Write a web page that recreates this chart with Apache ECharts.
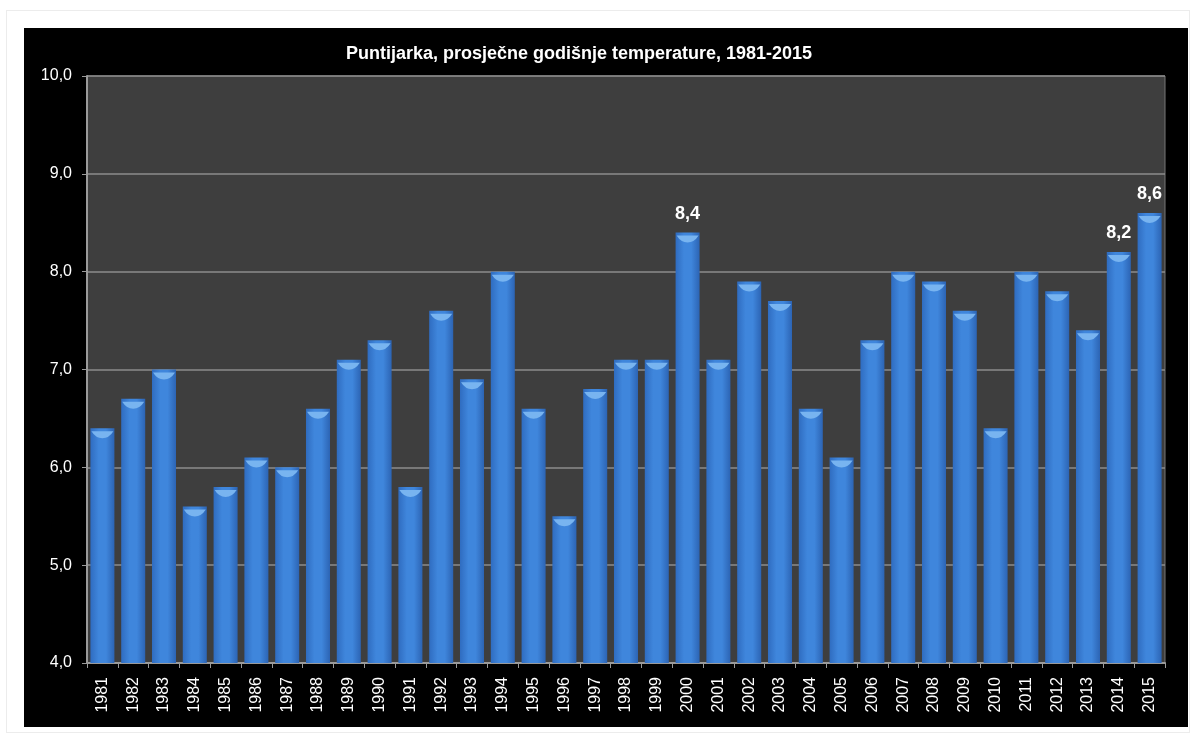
<!DOCTYPE html>
<html>
<head>
<meta charset="utf-8">
<script src="https://cdn.jsdelivr.net/npm/echarts@6/dist/echarts.min.js"></script>
<style>
  html, body { margin: 0; padding: 0; background: #ffffff; width: 1190px; height: 733px; overflow: hidden; }
  #frame { position: absolute; left: 6px; top: 10px; width: 1184px; height: 723px; border: 1px solid #ececec; box-sizing: border-box; }
  #chart { position: absolute; left: 24px; top: 28px; width: 1164px; height: 699px; background: #000; }
</style>
</head>
<body>
<div id="frame"></div>
<div id="chart"></div>
<script>
const titleText = 'Puntijarka, prosječne godišnje temperature, 1981-2015';
const years = ['1981','1982','1983','1984','1985','1986','1987','1988','1989','1990','1991','1992','1993','1994','1995','1996','1997','1998','1999','2000','2001','2002','2003','2004','2005','2006','2007','2008','2009','2010','2011','2012','2013','2014','2015'];
const temps = [6.4,6.7,7.0,5.6,5.8,6.1,6.0,6.6,7.1,7.3,5.8,7.6,6.9,8.0,6.6,5.5,6.8,7.1,7.1,8.4,7.1,7.9,7.7,6.6,6.1,7.3,8.0,7.9,7.6,6.4,8.0,7.8,7.4,8.2,8.6];
const labelledYears = ['2000','2014','2015'];

const fmt = v => v.toFixed(1).replace('.', ',');
const chart = echarts.init(document.getElementById('chart'), null, { renderer: 'canvas' });

const barData = temps.map((v, i) => ({
  value: v,
  label: { show: labelledYears.includes(years[i]) }
}));

chart.setOption({
  backgroundColor: '#000',
  animation: false,
  title: {
    text: titleText,
    left: 550, top: 12,
    textAlign: 'center',
    textStyle: { color: '#ffffff', fontFamily: 'Liberation Sans, Arial', fontWeight: 'bold', fontSize: 18 }
  },
  grid: { left: 63, top: 48, right: 23, bottom: 64, containLabel: false, show: true, backgroundColor: '#3e3e3e', borderColor: '#777', borderWidth: 1 },
  xAxis: {
    type: 'category',
    data: years,
    boundaryGap: true,
    axisLine: { show: true, lineStyle: { color: '#9a9a9a', width: 2 } },
    axisTick: { show: true, alignWithLabel: false, length: 5, lineStyle: { color: '#9a9a9a' } },
    axisLabel: { rotate: 90, color: '#ffffff', fontFamily: 'Liberation Sans, Arial', fontSize: 16, margin: 14, interval: 0 }
  },
  yAxis: {
    type: 'value',
    min: 4, max: 10, interval: 1,
    axisLine: { show: true, lineStyle: { color: '#9a9a9a', width: 2 } },
    axisTick: { show: true, length: 5, lineStyle: { color: '#9a9a9a' } },
    axisLabel: { color: '#ffffff', fontFamily: 'Liberation Sans, Arial', fontSize: 16, margin: 15, formatter: fmt },
    splitLine: { show: true, lineStyle: { color: '#8c8c8c', width: 1.5 } }
  },
  series: [
    {
      type: 'bar',
      data: barData,
      barCategoryGap: '22%',
      itemStyle: {
        color: new echarts.graphic.LinearGradient(0, 0, 1, 0, [
          { offset: 0, color: '#2f6cc0' },
          { offset: 0.35, color: '#3f86dc' },
          { offset: 0.65, color: '#3f86dc' },
          { offset: 1, color: '#2c64b4' }
        ])
      },
      label: {
        show: false,
        position: 'top',
        distance: 10,
        color: '#ffffff',
        fontFamily: 'Liberation Sans, Arial',
        fontWeight: 'bold',
        fontSize: 18,
        formatter: p => fmt(p.value)
      }
    },
    {
      type: 'pictorialBar',
      data: temps,
      symbol: 'path://M0,0 L10,0 Q8,3 5,3 Q2,3 0,0 Z',
      symbolSize: [22, 7],
      symbolPosition: 'end',
      symbolOffset: [0, 3],
      barGap: '-100%',
      barCategoryGap: '22%',
      itemStyle: { color: '#78b4f0' },
      z: 3,
      silent: true
    }
  ]
});
</script>
</body>
</html>
